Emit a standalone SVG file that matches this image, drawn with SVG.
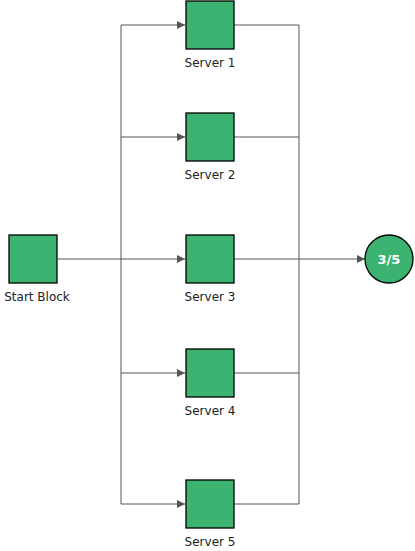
<svg xmlns="http://www.w3.org/2000/svg" width="415" height="551" viewBox="0 0 415 551">
<defs>
<marker id="arr" viewBox="0 0 10 10" refX="10" refY="5" markerWidth="8" markerHeight="8" markerUnits="userSpaceOnUse" orient="auto">
<path d="M0,0 L10,5 L0,10 z" fill="#555"/>
</marker>
<style>
.blk{fill:#3cb371;stroke:#000;stroke-width:1.3}
.lbl{font-family:"DejaVu Sans",Verdana,sans-serif;font-size:12px;fill:#222;text-anchor:middle}
.ln{fill:none;stroke:#555;stroke-width:1}
</style>
</defs>
<rect width="415" height="551" fill="#fff"/>
<g id="connectors">
<path class="ln" d="M58,259 H185" marker-end="url(#arr)"/>
<path class="ln" d="M121,25 V504"/>
<path class="ln" d="M121,25 H185" marker-end="url(#arr)"/>
<path class="ln" d="M121,137 H185" marker-end="url(#arr)"/>
<path class="ln" d="M121,373 H185" marker-end="url(#arr)"/>
<path class="ln" d="M121,504 H185" marker-end="url(#arr)"/>
<path class="ln" d="M234,25 H299 V504 H234"/>
<path class="ln" d="M234,137 H299"/>
<path class="ln" d="M234,373 H299"/>
<path class="ln" d="M234,259 H365" marker-end="url(#arr)"/>
</g>
<g id="start"><rect class="blk" x="9" y="235" width="48" height="48"/><text class="lbl" x="37" y="301">Start Block</text></g>
<g id="server1"><rect class="blk" x="186" y="1" width="48" height="48"/><text class="lbl" x="210" y="67">Server 1</text></g>
<g id="server2"><rect class="blk" x="186" y="113" width="48" height="48"/><text class="lbl" x="210" y="179">Server 2</text></g>
<g id="server3"><rect class="blk" x="186" y="235" width="48" height="48"/><text class="lbl" x="210" y="301">Server 3</text></g>
<g id="server4"><rect class="blk" x="186" y="349" width="48" height="48"/><text class="lbl" x="210" y="415">Server 4</text></g>
<g id="server5"><rect class="blk" x="186" y="480" width="48" height="48"/><text class="lbl" x="210" y="546">Server 5</text></g>
<g id="vote"><circle class="blk" cx="389" cy="259" r="24"/><text x="389" y="264" font-family="DejaVu Sans,Verdana,sans-serif" font-size="13" font-weight="bold" fill="#fff" text-anchor="middle">3/5</text></g>
</svg>
